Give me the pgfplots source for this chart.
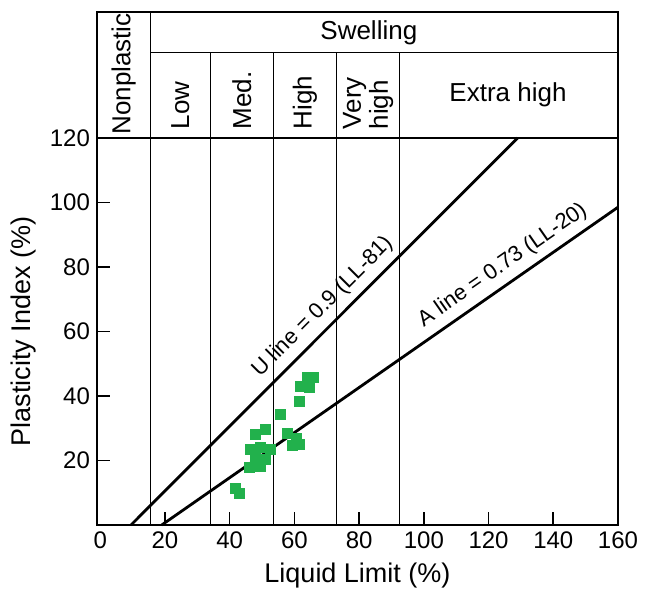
\documentclass[border=0pt]{standalone}
\usepackage{fontspec}
\setmainfont{Liberation Sans}
\usepackage{pgfplots}
\pgfplotsset{compat=1.18}
\definecolor{ptgreen}{HTML}{22B14C}
\newcommand{\hdr}{\fontsize{13}{13.5}\selectfont}
\newcommand{\lbl}{\fontsize{11}{13}\selectfont}
\begin{document}
\begin{tikzpicture}
\useasboundingbox (-48.5pt,-33pt) rectangle (280.5pt,262.5pt);
\begin{axis}[
    at={(0,0)}, anchor=south west,
    scale only axis, width=260.5pt, height=256.5pt,
    xmin=-1, xmax=160, ymin=0, ymax=159,
    xtick={20,40,...,160}, ytick={20,40,...,120},
    extra x ticks={0},
    extra x tick style={major tick length=0pt},
    tick pos=left, tick align=inside,
    major tick length=6.5pt,
    tick style={line width=0.8pt, black},
    axis line style={line width=1.4pt},
    ticklabel style={font=\fontsize{12}{14}\selectfont},
    /pgf/number format/assume math mode=true,
    xlabel={Liquid Limit (\%)},
    ylabel={Plasticity Index (\%)},
    label style={font=\fontsize{13.5}{16}\selectfont},
    ylabel style={at={(ticklabel cs:0.377)}},
    clip=false,
]
% chart frame lines
\addplot[black, line width=0.8pt, no markers] coordinates {(-1,120) (160,120)};
\addplot[black, line width=0.8pt, no markers] coordinates {(15.5,0) (15.5,159)};
\addplot[black, line width=0.8pt, no markers] coordinates {(15.5,146.5) (160,146.5)};
\addplot[black, line width=0.7pt, no markers] coordinates {(34,0) (34,146.5)};
\addplot[black, line width=0.7pt, no markers] coordinates {(53.5,0) (53.5,146.5)};
\addplot[black, line width=0.7pt, no markers] coordinates {(73,0) (73,146.5)};
\addplot[black, line width=0.7pt, no markers] coordinates {(92.5,0) (92.5,146.5)};

% U and A lines
\addplot[black, line width=1.4pt, no markers] coordinates {(9.5,0) (129,120)}
    node[pos=0.53, sloped, above, font=\lbl] {U line = 0.9 (LL-81)};
\addplot[black, line width=1.4pt, no markers] coordinates {(19,0) (160,98.5)}
    node[pos=0.77, sloped, above, font=\lbl] {A line = 0.73 (LL-20)};

% samples
\addplot[only marks, mark=square*, mark size=2.5pt, color=ptgreen] coordinates {
    (61.7,43.1) (63.9,45.6) (66.0,45.9) (64.5,42.8) (61.6,38.4)
    (55.8,34.2) (57.7,28.4) (60.5,26.9) (59.3,24.8) (61.4,25.1)
    (48.1,28.0) (51.1,29.7) (46.5,23.5) (49.6,23.9) (52.7,23.5)
    (48.1,20.9) (51.1,20.4) (49.6,18.3) (46.0,17.8) (41.7,11.3)
    (42.9,9.8)
};

% header
\node[rotate=90, font=\hdr] at (axis cs:7.2,139.8) {Nonplastic};
\node[font=\hdr] at (axis cs:83,152.7) {Swelling};
\node[rotate=90, anchor=west, inner sep=0pt, font=\hdr] at (axis cs:24.75,122.5) {Low};
\node[rotate=90, anchor=west, inner sep=0pt, font=\hdr] at (axis cs:43.75,122.5) {Med.};
\node[rotate=90, anchor=west, inner sep=0pt, font=\hdr] at (axis cs:63.25,122.5) {High};
\node[rotate=90, anchor=west, inner sep=0pt, align=left, font=\hdr] at (axis cs:82.75,122.5) {Very\\high};
\node[font=\hdr] at (axis cs:126,133.5) {Extra high};
\end{axis}
\end{tikzpicture}
\end{document}
